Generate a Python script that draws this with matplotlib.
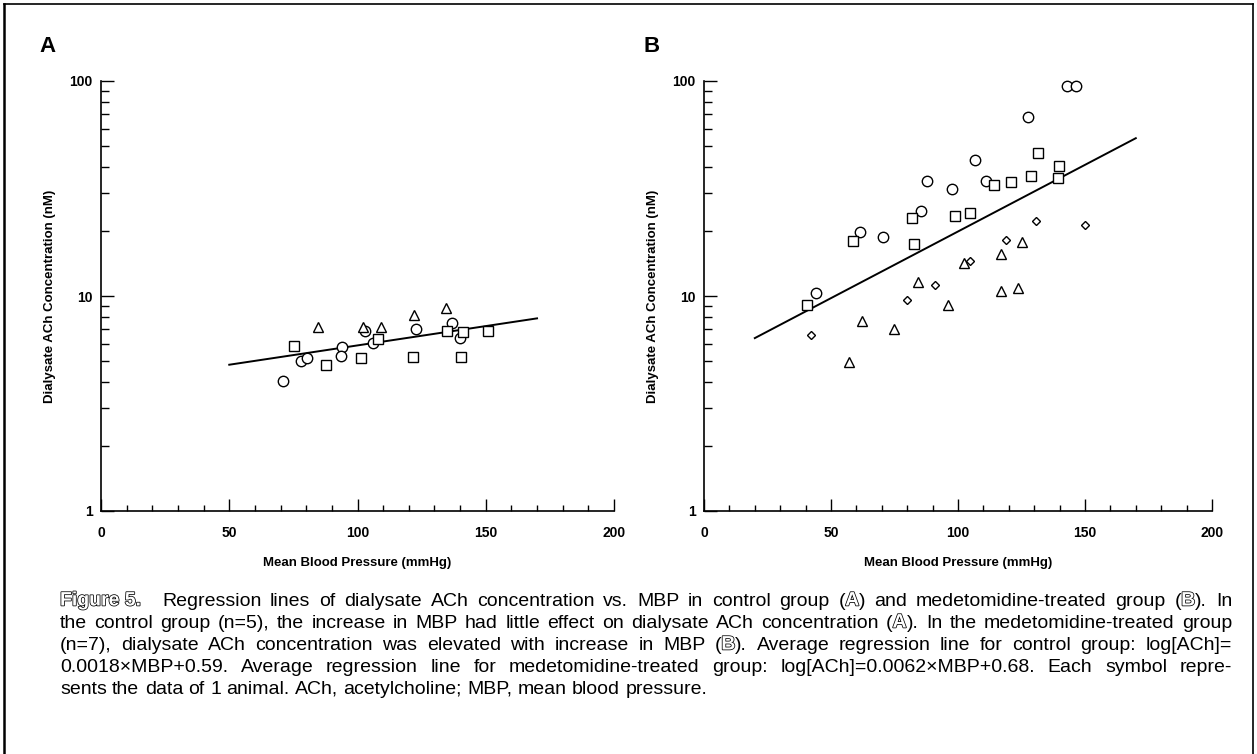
import matplotlib
matplotlib.use("Agg")
import matplotlib.pyplot as plt
import matplotlib.patheffects as pe
from matplotlib.ticker import MultipleLocator, LogLocator, NullFormatter

plt.rcParams['font.family'] = ['Liberation Sans', 'DejaVu Sans']

# Panel A: control group, one symbol per animal
a_circle_x = [71, 78, 80.5, 94, 93.5, 103, 106, 123, 137, 140]
a_circle_y = [4.03, 5.0, 5.15, 5.8, 5.28, 6.88, 6.03, 7.0, 7.5, 6.36]
a_square_x = [75.4, 87.6, 101.2, 108, 121.5, 135, 141, 140.5, 151]
a_square_y = [5.87, 4.78, 5.13, 6.29, 5.19, 6.9, 6.8, 5.19, 6.9]
a_triangle_x = [84.5, 102, 109, 122, 134.6]
a_triangle_y = [7.2, 7.2, 7.2, 8.2, 8.8]
a_line_x = [50, 170]
a_line_y = [4.79, 7.87]

# Panel B: medetomidine-treated group
b_circle_x = [142.8, 146.5, 127.7, 106.8, 87.8, 97.6, 110.9, 85.4, 61.4, 70.4, 44.1]
b_circle_y = [95.0, 94.3, 67.7, 42.9, 34.4, 31.6, 34.4, 24.9, 19.9, 18.9, 10.35]
b_square_x = [131.4, 139.9, 128.7, 139.5, 120.7, 114.3, 104.7, 98.8, 82.0, 58.8, 82.8, 40.4]
b_square_y = [46.2, 40.4, 36.3, 35.4, 33.8, 32.9, 24.3, 23.5, 23.1, 18.1, 17.5, 9.1]
b_triangle_x = [125.1, 116.9, 102.4, 84.3, 123.7, 116.8, 96.2, 62.1, 74.7, 57.1]
b_triangle_y = [17.9, 15.7, 14.3, 11.6, 10.9, 10.6, 9.04, 7.64, 7.04, 4.93]
b_diamond_x = [130.6, 118.9, 104.7, 91.1, 80.0, 42.0, 150.0]
b_diamond_y = [22.4, 18.2, 14.5, 11.2, 9.53, 6.56, 21.5]
b_line_x = [20, 170]
b_line_y = [6.37, 54.2]

caption = [
    "#Figure 5.#   Regression lines of dialysate ACh concentration vs. MBP in control group (#A#) and medetomidine-treated group (#B#). In",
    "the control group (n=5), the increase in MBP had little effect on dialysate ACh concentration (#A#). In the medetomidine-treated group",
    "(n=7), dialysate ACh concentration was elevated with increase in MBP (#B#). Average regression line for control group: log[ACh]=",
    "0.0018\u00d7MBP+0.59. Average regression line for medetomidine-treated group: log[ACh]=0.0062\u00d7MBP+0.68. Each symbol repre-",
    "sents the data of 1 animal. ACh, acetylcholine; MBP, mean blood pressure.",
]

W, H = 1257, 754
fig = plt.figure(figsize=(W / 100, H / 100), dpi=100)
renderer = fig.canvas.get_renderer()

mk = dict(linestyle='none', markerfacecolor='white', markeredgecolor='black',
          markeredgewidth=1.0, clip_on=False)


def style_axes(ax, label):
    ax.set_yscale('log')
    ax.set_xlim(0, 200)
    ax.set_ylim(1, 100)
    for side in ['top', 'right']:
        ax.spines[side].set_visible(False)
    for side in ['left', 'bottom']:
        ax.spines[side].set_linewidth(1.2)
    ax.set_xticks([0, 50, 100, 150, 200])
    ax.set_xticklabels(['0', '50', '100', '150', '200'])
    ax.xaxis.set_minor_locator(MultipleLocator(10))
    ax.set_yticks([1, 10, 100])
    ax.set_yticklabels(['1', '10', '100'])
    ax.yaxis.set_minor_locator(LogLocator(base=10, subs=range(2, 10)))
    ax.yaxis.set_minor_formatter(NullFormatter())
    ax.tick_params(which='major', direction='in', length=9, width=1.0,
                   labelsize=10)
    ax.tick_params(which='minor', direction='in', length=6, width=1.0)
    ax.tick_params(axis='x', which='minor', length=4)
    ax.tick_params(axis='y', pad=6)
    ax.tick_params(axis='x', pad=11)
    for t in ax.get_xticklabels() + ax.get_yticklabels():
        t.set_fontweight('bold')
    ax.set_xlabel("Mean Blood Pressure (mmHg)", fontsize=9.5,
                  fontweight='bold', labelpad=12)
    ax.set_ylabel("Dialysate ACh Concentration (nM)", fontsize=9.5,
                  fontweight='bold', labelpad=10)
    ax.text(-0.12, 1.08, label, transform=ax.transAxes, fontsize=16,
            fontweight='bold', ha='left', va='center')


ax1 = fig.add_axes([101 / W, 1 - 511 / H, 513 / W, 430 / H])
ax2 = fig.add_axes([704 / W, 1 - 511 / H, 508 / W, 430 / H])

ax1.plot(a_line_x, a_line_y, color='black', lw=1.4)
ax1.plot(a_circle_x, a_circle_y, marker='o', markersize=7.5, **mk)
ax1.plot(a_square_x, a_square_y, marker='s', markersize=7, **mk)
ax1.plot(a_triangle_x, a_triangle_y, marker='^', markersize=7, **mk)
style_axes(ax1, 'A')

ax2.plot(b_line_x, b_line_y, color='black', lw=1.4)
ax2.plot(b_circle_x, b_circle_y, marker='o', markersize=7.5, **mk)
ax2.plot(b_square_x, b_square_y, marker='s', markersize=7, **mk)
ax2.plot(b_triangle_x, b_triangle_y, marker='^', markersize=7, **mk)
ax2.plot(b_diamond_x, b_diamond_y, marker='D', markersize=4.5, **mk)
style_axes(ax2, 'B')

# Outer frame of the figure
fig.add_artist(plt.Line2D([4 / W, 4 / W], [0, 1 - 4 / H], color='black', lw=1.8))
fig.add_artist(plt.Line2D([4 / W, 1 - 4 / W], [1 - 4 / H, 1 - 4 / H], color='black', lw=1.2))
fig.add_artist(plt.Line2D([1 - 4 / W, 1 - 4 / W], [0, 1 - 4 / H], color='black', lw=1.2))

# Caption, justified word by word; text between # is drawn hollow
cap_size = 14
hollow = dict(color='white', fontweight='bold',
              path_effects=[pe.withStroke(linewidth=1.1, foreground='black')])


def pieces(word):
    parts = word.split('#')
    return [(p, i % 2 == 1) for i, p in enumerate(parts) if p]


def piece_width(text, is_hollow):
    kw = hollow if is_hollow else {}
    t = fig.text(0, 0, text, fontsize=cap_size, **kw)
    w = t.get_window_extent(renderer).width
    t.remove()
    return w


x_left, x_right = 60, 1232
space_w = piece_width("a a", False) - piece_width("aa", False)
for i, line in enumerate(caption):
    words = line.replace('#Figure 5.#', '#Figure\u00a05.#').split(' ')
    words = [w for w in words if w]
    widths = [sum(piece_width(p, h) for p, h in pieces(w)) for w in words]
    if i == 0:
        widths[0] += 12
    if i < len(caption) - 1:
        gap = (x_right - x_left - sum(widths)) / (len(words) - 1)
    else:
        gap = space_w
    y = 1 - (601 + 22 * i) / H
    x = x_left
    for w, ww in zip(words, widths):
        xx = x
        for p, h in pieces(w):
            kw = hollow if h else {}
            fig.text(xx / W, y, p, fontsize=cap_size, va='center', ha='left', **kw)
            xx += piece_width(p, h)
        x += ww + gap

fig.savefig("out.png", dpi=100)
